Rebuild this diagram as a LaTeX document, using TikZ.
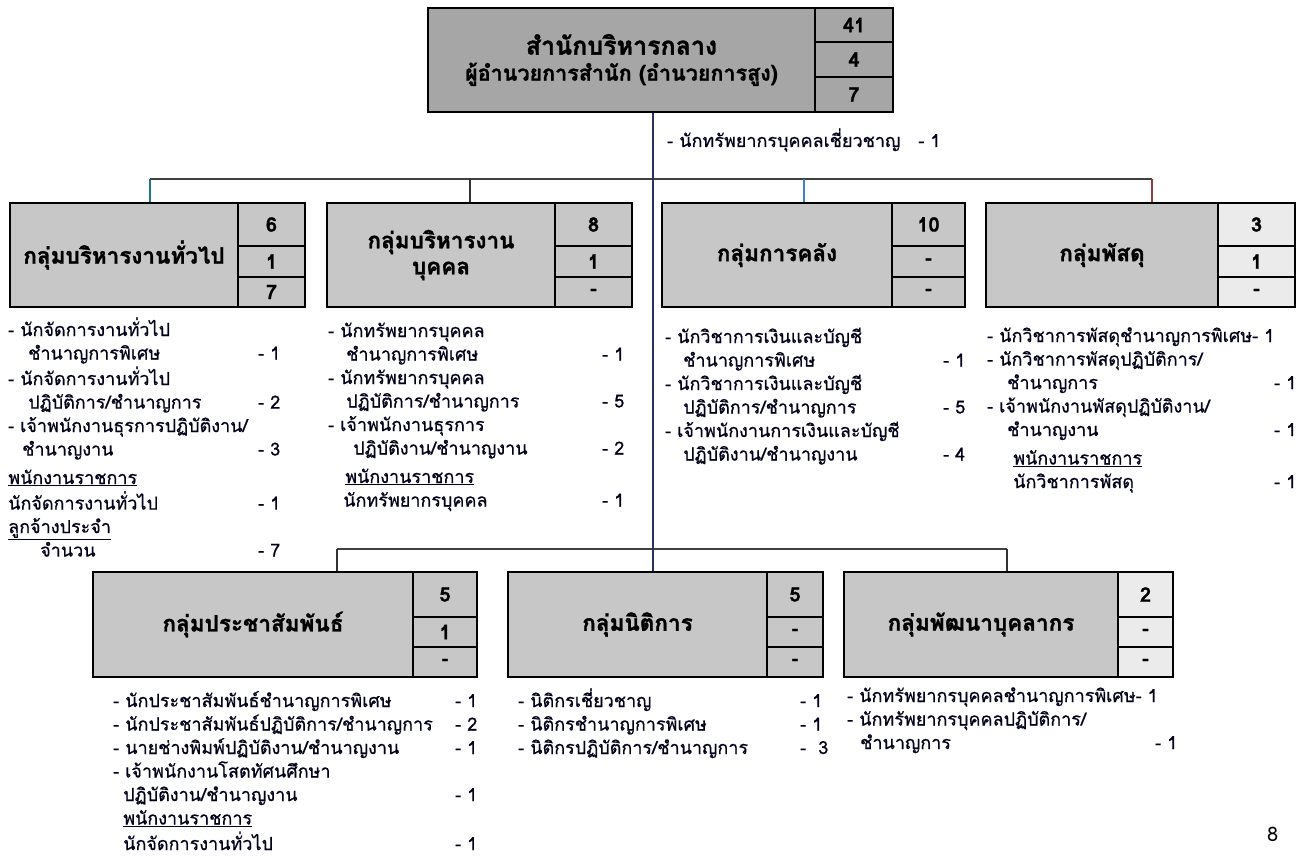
\documentclass[tikz,border=0pt]{standalone}
\usepackage{fontspec}
\setmainfont[Script=Thai]{Loma}
\definecolor{trunk}{RGB}{40,50,90}
\definecolor{dropa}{RGB}{30,120,140}
\definecolor{dropb}{RGB}{60,130,200}
\definecolor{dropc}{RGB}{150,60,60}
\begin{document}
\begin{tikzpicture}[x=1pt, y=-1pt,
  unitbox/.style={draw, line width=2.2pt, fill=black!22, inner sep=0pt, align=center, font=\bfseries\addfontfeatures{FakeBold=1.2}\fontsize{22.5}{26}\selectfont},
  numbox/.style={draw, line width=2.2pt, fill=black!22, inner sep=0pt, font=\bfseries\addfontfeatures{FakeBold=1.2}\fontsize{20}{22}\selectfont},
  duty/.style={anchor=base west, inner sep=0pt, text=black!90!blue, font=\addfontfeatures{FakeBold=0.6}\fontsize{18}{23.5}\selectfont},
  link/.style={line width=1.2pt}]
\fill[white] (0,0) rectangle (1299,856);
\useasboundingbox (0,0) rectangle (1299,856);

% head office
\node[unitbox, fill=black!35, minimum width=387pt, minimum height=104pt] (hq) at (621.5,60)
  {\fontsize{25}{30}\selectfont สำนักบริหารกลาง\\{\fontsize{21.5}{24}\selectfont ผู้อำนวยการสำนัก (อำนวยการสูง)}};
\node[numbox, fill=black!35, minimum width=78pt, minimum height=34pt] (hqa) at (854,25) {41};
\node[numbox, fill=black!35, minimum width=78pt, minimum height=35pt] (hqb) at (854,59.5) {4};
\node[numbox, fill=black!35, minimum width=78pt, minimum height=35pt] (hqc) at (854,94.5) {7};
\node[duty] (hqt) at (667,147) {- นักทรัพยากรบุคคลเชี่ยวชาญ\hspace{18pt}- 1};

% first row
\node[unitbox, minimum width=228pt, minimum height=104pt] (g1) at (124,255) {กลุ่มบริหารงานทั่วไป};
\node[numbox, minimum width=67pt, minimum height=43pt] (g1a) at (271.5,224.5) {6};
\node[numbox, minimum width=67pt, minimum height=31pt] (g1b) at (271.5,261.5) {1};
\node[numbox, minimum width=67pt, minimum height=30pt] (g1c) at (271.5,292) {7};

\node[unitbox, minimum width=228pt, minimum height=104pt] (g2) at (441,255) {กลุ่มบริหารงาน\\บุคคล};
\node[numbox, minimum width=77pt, minimum height=43pt] (g2a) at (593.5,224.5) {8};
\node[numbox, minimum width=77pt, minimum height=31pt] (g2b) at (593.5,261.5) {1};
\node[numbox, minimum width=77pt, minimum height=30pt] (g2c) at (593.5,292) {-};

\node[unitbox, minimum width=230pt, minimum height=104pt] (g3) at (777,255) {กลุ่มการคลัง};
\node[numbox, minimum width=73pt, minimum height=43pt] (g3a) at (928.5,224.5) {10};
\node[numbox, minimum width=73pt, minimum height=31pt] (g3b) at (928.5,261.5) {-};
\node[numbox, minimum width=73pt, minimum height=30pt] (g3c) at (928.5,292) {-};

\node[unitbox, minimum width=232pt, minimum height=104pt] (g4) at (1102,255) {กลุ่มพัสดุ};
\node[numbox, fill=black!8, minimum width=77pt, minimum height=43pt] (g4a) at (1256.5,224.5) {3};
\node[numbox, fill=black!8, minimum width=77pt, minimum height=31pt] (g4b) at (1256.5,261.5) {1};
\node[numbox, fill=black!8, minimum width=77pt, minimum height=30pt] (g4c) at (1256.5,292) {-};

% second row
\node[unitbox, minimum width=320pt, minimum height=105pt] (g5) at (253,624.5) {กลุ่มประชาสัมพันธ์};
\node[numbox, minimum width=64pt, minimum height=45pt] (g5a) at (445,594.5) {5};
\node[numbox, minimum width=64pt, minimum height=30pt] (g5b) at (445,632) {1};
\node[numbox, minimum width=64pt, minimum height=30pt] (g5c) at (445,662) {-};

\node[unitbox, minimum width=259pt, minimum height=105pt] (g6) at (637.5,624.5) {กลุ่มนิติการ};
\node[numbox, minimum width=56pt, minimum height=45pt] (g6a) at (795,594.5) {5};
\node[numbox, minimum width=56pt, minimum height=30pt] (g6b) at (795,632) {-};
\node[numbox, minimum width=56pt, minimum height=30pt] (g6c) at (795,662) {-};

\node[unitbox, minimum width=274pt, minimum height=105pt] (g7) at (981,624.5) {กลุ่มพัฒนาบุคลากร};
\node[numbox, fill=black!8, minimum width=55pt, minimum height=45pt] (g7a) at (1145.5,594.5) {2};
\node[numbox, fill=black!8, minimum width=55pt, minimum height=30pt] (g7b) at (1145.5,632) {-};
\node[numbox, fill=black!8, minimum width=55pt, minimum height=30pt] (g7c) at (1145.5,662) {-};

% staff lists
\node[duty] (l1) at (8,336) {\begin{tabular}[t]{@{}p{250pt}@{}l@{}}
- นักจัดการงานทั่วไป & \\
\hspace*{20pt}ชำนาญการพิเศษ & - 1\\
- นักจัดการงานทั่วไป & \\
\hspace*{20pt}ปฏิบัติการ/ชำนาญการ & - 2\\
- เจ้าพนักงานธุรการปฏิบัติงาน/ & \\
\hspace*{14pt}ชำนาญงาน & - 3\\[5pt]
\underline{พนักงานราชการ} & \\
นักจัดการงานทั่วไป & - 1\\
\underline{ลูกจ้างประจำ} & \\
\hspace*{32pt}จำนวน & - 7
\end{tabular}};

\node[duty] (l2) at (328,337) {\begin{tabular}[t]{@{}p{274pt}@{}l@{}}
- นักทรัพยากรบุคคล & \\
\hspace*{18pt}ชำนาญการพิเศษ & - 1\\
- นักทรัพยากรบุคคล & \\
\hspace*{18pt}ปฏิบัติการ/ชำนาญการ & - 5\\
- เจ้าพนักงานธุรการ & \\
\hspace*{25pt}ปฏิบัติงาน/ชำนาญงาน & - 2\\[5pt]
\hspace*{17pt}\underline{พนักงานราชการ} & \\
\hspace*{15pt}นักทรัพยากรบุคคล & - 1
\end{tabular}};

\node[duty] (l3) at (665,343) {\begin{tabular}[t]{@{}p{278pt}@{}l@{}}
- นักวิชาการเงินและบัญชี & \\
\hspace*{18pt}ชำนาญการพิเศษ & - 1\\
- นักวิชาการเงินและบัญชี & \\
\hspace*{18pt}ปฏิบัติการ/ชำนาญการ & - 5\\
- เจ้าพนักงานการเงินและบัญชี & \\
\hspace*{18pt}ปฏิบัติงาน/ชำนาญงาน & - 4
\end{tabular}};

\node[duty] (l4) at (987,342) {\begin{tabular}[t]{@{}p{287pt}@{}l@{}}
\multicolumn{2}{@{}l@{}}{- นักวิชาการพัสดุชำนาญการพิเศษ- 1}\\
- นักวิชาการพัสดุปฏิบัติการ/ & \\
\hspace*{20pt}ชำนาญการ & - 1\\
- เจ้าพนักงานพัสดุปฏิบัติงาน/ & \\
\hspace*{20pt}ชำนาญงาน & - 1\\[5pt]
\hspace*{26pt}\underline{พนักงานราชการ} & \\
\hspace*{26pt}นักวิชาการพัสดุ & - 1
\end{tabular}};

\node[duty] (l5) at (113,707) {\begin{tabular}[t]{@{}p{342pt}@{}l@{}}
- นักประชาสัมพันธ์ชำนาญการพิเศษ & - 1\\
- นักประชาสัมพันธ์ปฏิบัติการ/ชำนาญการ & - 2\\
- นายช่างพิมพ์ปฏิบัติงาน/ชำนาญงาน & - 1\\
- เจ้าพนักงานโสตทัศนศึกษา & \\
\hspace*{10pt}ปฏิบัติงาน/ชำนาญงาน & - 1\\
\hspace*{10pt}\underline{พนักงานราชการ} & \\
\hspace*{10pt}นักจัดการงานทั่วไป & - 1
\end{tabular}};

\node[duty] (l6) at (518,707) {\begin{tabular}[t]{@{}p{282pt}@{}l@{}}
- นิติกรเชี่ยวชาญ & - 1\\
- นิติกรชำนาญการพิเศษ & - 1\\
- นิติกรปฏิบัติการ/ชำนาญการ & -\ \ 3
\end{tabular}};

\node[duty] (l7) at (847,702) {\begin{tabular}[t]{@{}p{308pt}@{}l@{}}
\multicolumn{2}{@{}l@{}}{- นักทรัพยากรบุคคลชำนาญการพิเศษ- 1}\\
- นักทรัพยากรบุคคลปฏิบัติการ/ & \\
\hspace*{13pt}ชำนาญการ & - 1
\end{tabular}};

\node[anchor=base west, inner sep=0pt, font=\fontsize{20}{24}\selectfont] (pg) at (1267,841) {8};

% connectors
\coordinate (busa) at (653,179);
\coordinate (busb) at (653,549);
\coordinate (d1) at (150,179);
\coordinate (d2) at (470,179);
\coordinate (d3) at (804,179);
\coordinate (d4) at (1152,179);
\coordinate (d5) at (337,549);
\coordinate (d7) at (1007,549);

\draw[link, black!75] (d1) -- (d4);
\draw[link, black!75] (d5) -- (d7);
\draw[link, trunk] (hq.south -| busa) -- (g6.north -| busa);
\draw[link, dropa] (d1) -- (d1 |- g1.north);
\draw[link, black!80] (d2) -- (d2 |- g2.north);
\draw[link, dropb] (d3) -- (d3 |- g3.north);
\draw[link, dropc] (d4) -- (d4 |- g4.north);
\draw[link, black!80] (d5) -- (d5 |- g5.north);
\draw[link, black!80] (d7) -- (d7 |- g7.north);

\end{tikzpicture}
\end{document}
